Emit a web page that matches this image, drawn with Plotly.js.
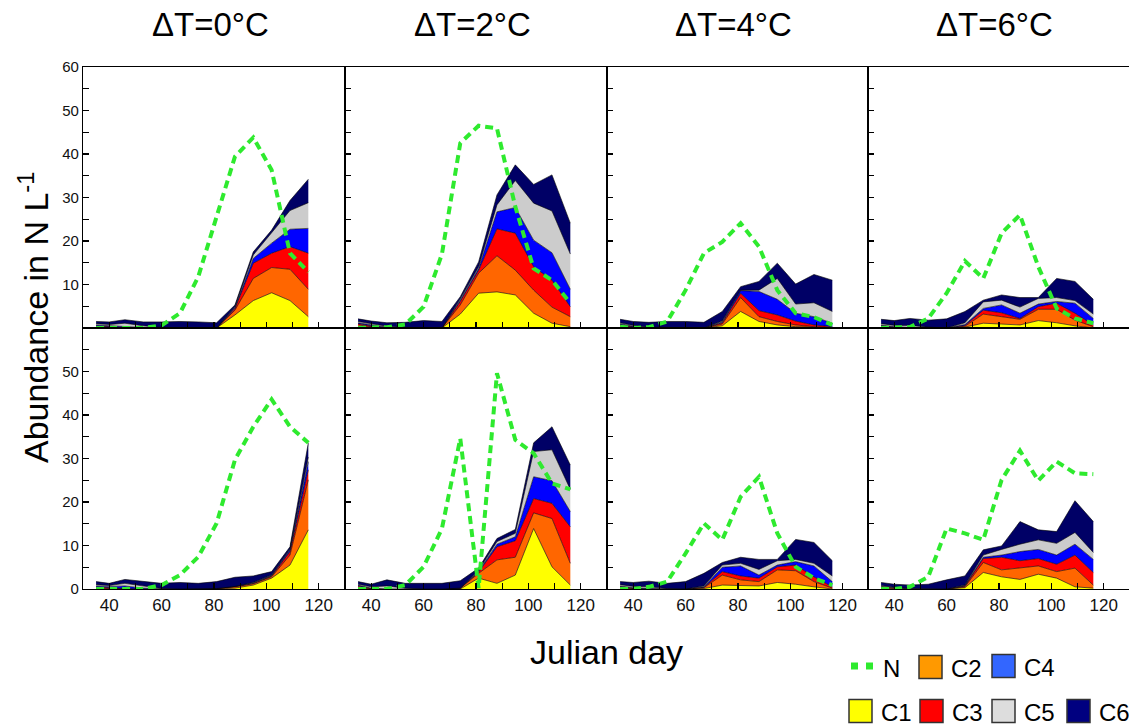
<!DOCTYPE html>
<html><head><meta charset="utf-8">
<script src="https://cdn.plot.ly/plotly-3.0.1.min.js"></script>
<style>html,body{margin:0;padding:0;background:#fff;}#chart{width:1129px;height:725px;}</style>
</head><body><div id="chart"></div>
<script>
// ---------- data ----------
const days = [35,40,46,53,60,67,74,81,88,95,102,109,116];
const panelTitles = ['ΔT=0°C','ΔT=2°C','ΔT=4°C','ΔT=6°C'];
const stageNames = ['C1','C2','C3','C4','C5','C6'];
const xTickVals = [40,60,80,100,120];
const xTickText = ['40','60','80','100','120'];
const yTickValsTop = [10,20,30,40,50,60];
const yTickTextTop = ['10','20','30','40','50','60'];
const yTickValsBottom = [0,10,20,30,40,50];
const yTickTextBottom = ['0','10','20','30','40','50'];

// top row, ΔT=0
const N_a0  = [0,0,0,0,0.6,3.4,11.8,26.0,39.4,43.8,36.3,17.2,12.9];
const C1_a0 = [0,0,0,0,0,0,0,0,3.0,6.3,8.1,6.3,2.6];
const C2_a0 = [0.2,0.1,0,0,0,0,0,0,1.1,5.1,5.8,7.2,6.3];
const C3_a0 = [0.3,0.2,0.1,0,0,0,0,0,0.4,3.5,3.3,5.2,8.3];
const C4_a0 = [0.2,0.2,0.3,0.1,0,0,0,0,0.2,1.1,2.3,4.0,5.7];
const C5_a0 = [0.3,0.3,0.7,0.4,0.1,0,0,0,0.2,0.8,2.3,4.3,5.9];
const C6_a0 = [0.5,0.6,0.8,0.9,1.3,1.5,1.4,1.2,0.4,0.7,0.7,2.3,5.4];
// top row, ΔT=2
const N_a2  = [0,0,0.2,0.8,4.9,17.0,42.5,46.5,45.9,27.9,13.7,11.0,5.7];
const C1_a2 = [0.3,0.1,0,0,0,0,3.2,8.0,8.3,7.6,3.4,1.1,0.3];
const C2_a2 = [0.4,0.2,0,0,0,0,2.1,4.6,8.3,5.7,5.3,3.7,2.3];
const C3_a2 = [0.3,0.2,0.1,0,0,0,0.8,0.7,6.2,8.5,5.4,6.2,2.3];
const C4_a2 = [0.2,0.2,0.1,0,0,0,0.3,0.4,3.9,5.9,6.1,6.3,4.0];
const C5_a2 = [0.3,0.3,0.2,0.1,0,0,0.3,0.4,1.6,6.2,8.5,9.6,8.1];
const C6_a2 = [0.6,0.6,0.8,1.2,1.7,1.5,0.5,1.1,2.3,3.6,4.3,8.3,7.1];
// top row, ΔT=4
const N_a4  = [0.3,0,0.2,1.5,8.7,17.2,19.8,24.1,18.7,8.7,3.4,2.5,0.7];
const C1_a4 = [0.2,0,0,0,0,0,0.5,3.8,1.5,0.7,0.3,0.1,0];
const C2_a4 = [0.4,0.2,0,0,0,0,0.4,3.2,1.1,0.8,0.4,0.2,0.1];
const C3_a4 = [0.2,0.1,0,0,0,0,0.3,1.0,1.4,1.5,0.9,0.4,0.2];
const C4_a4 = [0.2,0.1,0.1,0,0,0,0.2,0.6,4.4,3.6,1.8,1.9,0.8];
const C5_a4 = [0.2,0.2,0.1,0.1,0,0,0.2,0.1,0.3,4.8,2.1,3.2,2.7];
const C6_a4 = [0.8,0.9,1.1,1.4,1.5,1.3,2.2,0.8,2.0,3.5,4.6,6.5,7.2];
// top row, ΔT=6
const N_a6  = [0,0,0.2,2.2,8.0,15.4,11.4,21.8,26.0,14.1,4.5,2.2,1.1];
const C1_a6 = [0.1,0,0,0,0,0.2,1.1,0.9,0.7,1.7,1.2,0.5,0];
const C2_a6 = [0.2,0.1,0,0,0,0.2,2.1,1.7,1.3,2.6,3.1,1.3,0.3];
const C3_a6 = [0.3,0.1,0,0,0,0.2,0.9,0.9,0.2,0.6,1.4,1.6,0.4];
const C4_a6 = [0.1,0.1,0.1,0,0,0.2,0.4,1.8,1.2,0.6,0.4,2.3,1.5];
const C5_a6 = [0.3,0.3,0.5,0.2,0,0.4,1.5,1.1,1.4,1.3,0.9,0.6,1.0];
const C6_a6 = [1.0,1.1,1.6,1.6,2.1,2.6,0.4,1.2,2.2,0.2,4.4,4.4,3.4];
// bottom row, ΔT=0
const N_b0  = [0,0,0,0,0.9,3.2,7.4,15.1,29.7,37.3,43.6,37.3,33.6];
const C1_b0 = [0,0,0,0,0,0,0,0,0.2,0.9,2.5,5.5,13.6];
const C2_b0 = [0.2,0.1,0,0,0,0,0,0.1,0.3,0.3,0.3,2.3,11.5];
const C3_b0 = [0.3,0.2,0.1,0,0,0,0,0,0.1,0.1,0.2,0.8,2.3];
const C4_b0 = [0.2,0.3,0.6,0.2,0,0,0,0,0,0.1,0.1,0.4,1.9];
const C5_b0 = [0.3,0.2,0.6,0.5,0.1,0,0,0,0,0.1,0.1,0.2,1.0];
const C6_b0 = [0.7,0.5,0.9,1.0,1.2,1.5,1.3,1.6,2.1,1.5,0.8,0.5,3.3];
// bottom row, ΔT=2
const N_b2  = [0,0,0,0.9,5.1,13.9,34.6,0.2,49.6,34.3,31.2,24.3,22.9];
const C1_b2 = [0.1,0,0,0,0,0,0,2.5,1.3,3.2,13.9,5.1,0.9];
const C2_b2 = [0.3,0.1,0,0,0,0,0.2,1.1,5.4,4.1,3.6,11.1,5.0];
const C3_b2 = [0.3,0.1,0,0,0,0,0,0.3,3.0,3.8,3.3,3.5,8.4];
const C4_b2 = [0.2,0,0,0,0,0,0,0.2,0.6,0.9,5.0,5.2,3.5];
const C5_b2 = [0.2,0.3,0.7,0.2,0,0,0,0.2,0.6,0.8,5.8,7.1,5.1];
const C6_b2 = [0.6,0.6,1.4,1.1,1.3,1.3,1.7,0.5,0.7,0.9,2.0,5.3,5.6];
// bottom row, ΔT=4
const N_b4  = [0,0,0.5,1.7,8.2,15.1,11.3,21.2,25.8,12.8,5.1,2.5,0.9];
const C1_b4 = [0.1,0,0,0,0,0.1,0.9,0.8,0.7,1.5,1.1,0.5,0];
const C2_b4 = [0.3,0.1,0,0,0,0.2,2.3,1.3,1.0,2.9,3.1,1.2,0.2];
const C3_b4 = [0.2,0.1,0,0,0,0.1,0.8,0.9,0.8,0.7,1.3,1.1,0.3];
const C4_b4 = [0.1,0.1,0.1,0,0,0.1,1.0,2.3,0.7,0.4,0.8,2.5,1.2];
const C5_b4 = [0.3,0.3,0.4,0.1,0,0.2,0.5,0.6,1.3,1.0,0.5,0.6,1.3];
const C6_b4 = [0.7,0.9,1.3,1.2,1.7,2.9,0.6,1.4,2.3,0.3,4.6,4.8,3.5];
// bottom row, ΔT=6
const N_b6  = [0,0,0.5,2.8,13.9,12.8,11.3,25.1,31.8,24.9,29.3,26.6,26.4];
const C1_b6 = [0.1,0,0,0,0,0.3,3.8,2.8,2.2,3.4,2.5,0.5,0.2];
const C2_b6 = [0.2,0.1,0,0,0,0.2,2.3,1.6,2.6,1.9,1.5,4.3,0.7];
const C3_b6 = [0.2,0.1,0,0,0,0.2,0.9,2.9,1.7,1.7,1.7,3.0,2.9];
const C4_b6 = [0.1,0.1,0,0,0,0.1,0.3,0.5,2.1,2.1,2.1,2.5,3.0];
const C5_b6 = [0.2,0.1,0.1,0,0,0.1,0.5,1.3,1.7,2.2,2.7,2.7,1.6];
const C6_b6 = [0.7,0.7,0.8,1.1,2.1,2.1,1.2,0.8,5.2,2.3,2.7,7.3,7.1];

// ---------- styles ----------
const W = 1129, H = 725;
const fillColors = ['#FFFF00','#FF6600','#FF0000','#0000FF','#CCCCCC','#000066'];
const legendColors = ['#FFFF00','#FF9900','#FF0000','#3366FF','#DDDDDD','#000080'];
const nColor = '#2EEA2E';
const FONT = 'Liberation Sans, Arial, Helvetica, sans-serif';

const panels = [
  {row:0,col:0,N:N_a0,C:[C1_a0,C2_a0,C3_a0,C4_a0,C5_a0,C6_a0]},
  {row:0,col:1,N:N_a2,C:[C1_a2,C2_a2,C3_a2,C4_a2,C5_a2,C6_a2]},
  {row:0,col:2,N:N_a4,C:[C1_a4,C2_a4,C3_a4,C4_a4,C5_a4,C6_a4]},
  {row:0,col:3,N:N_a6,C:[C1_a6,C2_a6,C3_a6,C4_a6,C5_a6,C6_a6]},
  {row:1,col:0,N:N_b0,C:[C1_b0,C2_b0,C3_b0,C4_b0,C5_b0,C6_b0]},
  {row:1,col:1,N:N_b2,C:[C1_b2,C2_b2,C3_b2,C4_b2,C5_b2,C6_b2]},
  {row:1,col:2,N:N_b4,C:[C1_b4,C2_b4,C3_b4,C4_b4,C5_b4,C6_b4]},
  {row:1,col:3,N:N_b6,C:[C1_b6,C2_b6,C3_b6,C4_b6,C5_b6,C6_b6]}
];

const colPx = [[83,345],[345,607],[607,868],[868,1129]];
const rowPx = [[67,328],[328,589]];
const pxPerDay = 2.62;
const px = x => x / W;
const py = y => 1 - y / H;

const traces = [];
const layout = {
  width: W, height: H,
  margin: {l:0, r:0, t:0, b:0},
  paper_bgcolor: '#fff', plot_bgcolor: 'rgba(0,0,0,0)',
  showlegend: false,
  font: {family: FONT, color: '#000'},
  annotations: [], shapes: []
};

panels.forEach((p, i) => {
  const sfx = i === 0 ? '' : String(i + 1);
  const xa = 'x' + sfx, ya = 'y' + sfx;
  const cp = colPx[p.col], rp = rowPx[p.row];
  p.C.forEach((vals, k) => {
    traces.push({
      type: 'scatter', mode: 'lines', x: days, y: vals,
      xaxis: xa, yaxis: ya, stackgroup: 'g' + i,
      line: {color: '#000', width: 0.6},
      fillcolor: fillColors[k], name: stageNames[k], hoverinfo: 'skip'
    });
  });
  traces.push({
    type: 'scatter', mode: 'lines', x: days, y: p.N,
    xaxis: xa, yaxis: ya, name: 'N',
    line: {color: nColor, width: 4, dash: '8px,5px'}, hoverinfo: 'skip'
  });
  layout['xaxis' + sfx] = {
    domain: [px(cp[0]), Math.min(1, px(cp[1]))],
    range: [30, 30 + (cp[1] - cp[0]) / pxPerDay],
    anchor: ya,
    tickmode: 'array', tickvals: xTickVals, ticktext: xTickText,
    showticklabels: p.row === 1,
    tickfont: {size: 17, color: '#111', family: FONT},
    ticks: 'inside', ticklen: 6, tickwidth: 1.3, tickcolor: '#000',
    minor: {tick0: 30, dtick: 10, ticks: 'inside', ticklen: 6, tickwidth: 1.3, tickcolor: '#000', showgrid: false},
    showline: true, mirror: true, linecolor: '#000', linewidth: 1.1,
    showgrid: false, zeroline: false, fixedrange: true
  };
  layout['yaxis' + sfx] = {
    domain: [py(rp[1]), py(rp[0])],
    range: [0, 60],
    anchor: xa,
    tickmode: 'array',
    tickvals: p.row === 0 ? yTickValsTop : yTickValsBottom,
    ticktext: p.row === 0 ? yTickTextTop : yTickTextBottom,
    showticklabels: p.col === 0,
    tickfont: {size: 15, color: '#111', family: FONT},
    ticks: 'inside', ticklen: 6, tickwidth: 1.3, tickcolor: '#000',
    minor: {tick0: 0, dtick: 5, ticks: 'inside', ticklen: 6, tickwidth: 1.3, tickcolor: '#000', showgrid: false},
    showline: true, mirror: true, linecolor: '#000', linewidth: 1.1,
    showgrid: false, zeroline: false, fixedrange: true
  };
});

// column titles
panelTitles.forEach((t, c) => {
  layout.annotations.push({
    text: t, xref: 'paper', yref: 'paper',
    x: px((colPx[c][0] + colPx[c][1]) / 2 - 4), y: py(25),
    xanchor: 'center', yanchor: 'middle', showarrow: false,
    font: {size: 33, family: FONT, color: '#000'}
  });
});
// axis titles
layout.annotations.push({
  text: 'Julian day', xref: 'paper', yref: 'paper',
  x: px(606), y: py(652), xanchor: 'center', yanchor: 'middle', showarrow: false,
  font: {size: 34, family: FONT, color: '#000'}
});
layout.annotations.push({
  text: 'Abundance in N L<sup>-1</sup>', xref: 'paper', yref: 'paper',
  x: px(33), y: py(318), xanchor: 'center', yanchor: 'middle', showarrow: false,
  textangle: -90, font: {size: 34, family: FONT, color: '#000'}
});

// custom legend
const legendItems = [
  {label: 'C2', k: 1, x: 919, y: 667},
  {label: 'C4', k: 3, x: 992, y: 666},
  {label: 'C1', k: 0, x: 849, y: 711},
  {label: 'C3', k: 2, x: 920, y: 711},
  {label: 'C5', k: 4, x: 992, y: 711},
  {label: 'C6', k: 5, x: 1067, y: 711}
];
legendItems.forEach(it => {
  layout.shapes.push({
    type: 'rect', xref: 'paper', yref: 'paper',
    x0: px(it.x), x1: px(it.x + 23), y0: py(it.y + 11.5), y1: py(it.y - 11.5),
    fillcolor: legendColors[it.k], line: {color: '#333', width: 1.5}
  });
  layout.annotations.push({
    text: it.label, xref: 'paper', yref: 'paper',
    x: px(it.x + 30), y: py(it.y + 1), xanchor: 'left', yanchor: 'middle',
    showarrow: false, font: {size: 24, family: FONT, color: '#000'}
  });
});
// N legend: two green dashes
[[851, 858], [866, 873]].forEach(seg => {
  layout.shapes.push({
    type: 'rect', xref: 'paper', yref: 'paper',
    x0: px(seg[0]), x1: px(seg[1]), y0: py(669.5), y1: py(662.5),
    fillcolor: nColor, line: {width: 0}
  });
});
layout.annotations.push({
  text: 'N', xref: 'paper', yref: 'paper',
  x: px(881), y: py(668), xanchor: 'left', yanchor: 'middle',
  showarrow: false, font: {size: 24, family: FONT, color: '#000'}
});

Plotly.newPlot('chart', traces, layout, {staticPlot: true, displayModeBar: false});
</script>
</body></html>
